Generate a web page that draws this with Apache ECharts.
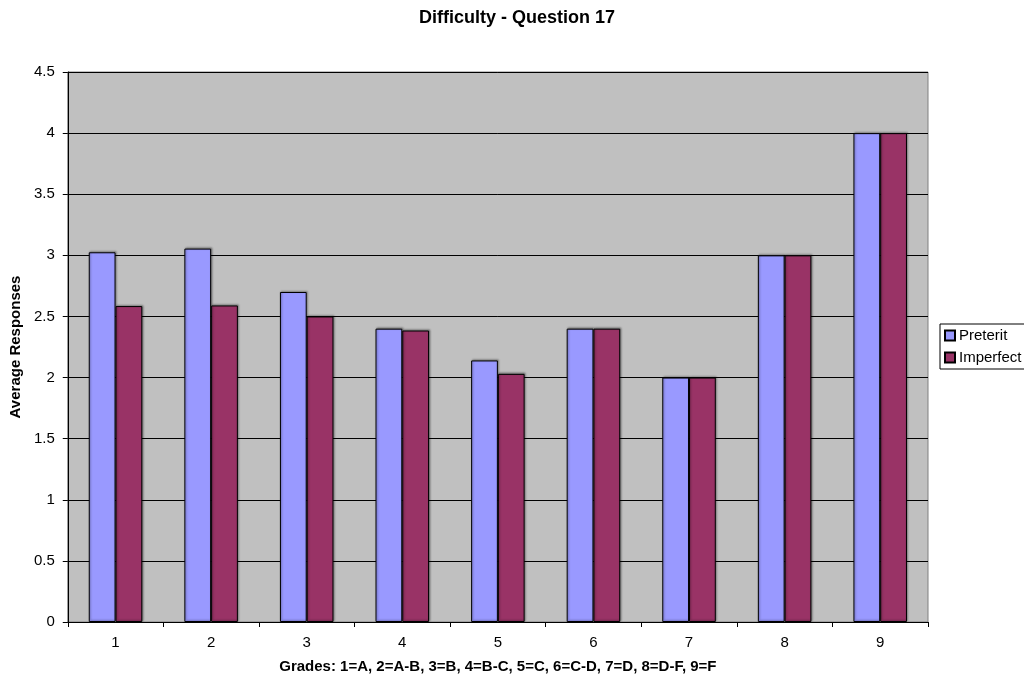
<!DOCTYPE html>
<html>
<head>
<meta charset="utf-8">
<script src="https://cdn.jsdelivr.net/npm/echarts@6/dist/echarts.min.js"></script>
<style>
  html, body { margin: 0; padding: 0; background: #ffffff; }
  #chart { width: 1024px; height: 680px; }
</style>
</head>
<body>
<div id="chart"></div>
<script>
// Grade categories on the x axis
const grades = ['1', '2', '3', '4', '5', '6', '7', '8', '9'];
// Average difficulty responses per grade
const preterit = [3.025, 3.055, 2.70, 2.40, 2.14, 2.40, 2.00, 3.00, 4.00];
const imperfect = [2.585, 2.59, 2.50, 2.385, 2.03, 2.40, 2.00, 3.00, 4.00];

const FONT = 'Liberation Sans, Arial, sans-serif';

const chart = echarts.init(document.getElementById('chart'));

const barStyle = (color) => ({
  color: color,
  borderColor: '#000000',
  borderWidth: 1,
  shadowColor: 'rgba(0,0,0,0.35)',
  shadowBlur: 2,
  shadowOffsetX: 1,
  shadowOffsetY: -1
});

chart.setOption({
  animation: false,
  title: {
    text: 'Difficulty - Question 17',
    left: 512,
    textAlign: 'center',
    top: 4,
    textStyle: { fontFamily: FONT, fontSize: 18, fontWeight: 'bold', color: '#000' }
  },
  legend: {
    data: ['Preterit', 'Imperfect'],
    orient: 'vertical',
    left: 940,
    top: 324,
    itemWidth: 10,
    itemHeight: 10,
    itemGap: 7,
    padding: [4, 20, 4, 4],
    borderColor: '#000000',
    borderWidth: 1,
    borderRadius: 0,
    icon: 'rect',
    textStyle: { fontFamily: FONT, fontSize: 15, color: '#000', padding: [0, 0, 0, -1] }
  },
  grid: {
    left: 66,
    right: 96,
    top: 72,
    bottom: 58,
    show: true,
    backgroundColor: '#c0c0c0',
    borderColor: '#808080',
    borderWidth: 1
  },
  xAxis: {
    type: 'category',
    data: grades,
    name: 'Grades: 1=A, 2=A-B, 3=B, 4=B-C, 5=C, 6=C-D, 7=D, 8=D-F, 9=F',
    nameLocation: 'middle',
    nameGap: 37,
    nameTextStyle: { fontFamily: FONT, fontSize: 15, fontWeight: 'bold', color: '#000' },
    axisLine: { lineStyle: { color: '#000', width: 1 } },
    axisTick: { show: true, length: 5, lineStyle: { color: '#000' }, alignWithLabel: false },
    axisLabel: { fontFamily: FONT, fontSize: 15, color: '#000', margin: 13 },
    splitLine: { show: false }
  },
  yAxis: {
    type: 'value',
    min: 0,
    max: 4.5,
    interval: 0.5,
    name: 'Average Responses',
    nameLocation: 'middle',
    nameGap: 42,
    nameTextStyle: { fontFamily: FONT, fontSize: 15, fontWeight: 'bold', color: '#000' },
    axisLine: { show: true, lineStyle: { color: '#000', width: 1 } },
    axisTick: { show: true, length: 5, lineStyle: { color: '#000' } },
    axisLabel: { fontFamily: FONT, fontSize: 15, color: '#000', margin: 13 },
    splitLine: { show: true, lineStyle: { color: '#000', width: 1 } }
  },
  series: [
    {
      name: 'Preterit',
      type: 'bar',
      data: preterit,
      barGap: '0%',
      barCategoryGap: '44%',
      itemStyle: barStyle('#9999ff')
    },
    {
      name: 'Imperfect',
      type: 'bar',
      data: imperfect,
      barGap: '0%',
      barCategoryGap: '44%',
      itemStyle: barStyle('#993366')
    }
  ]
});
</script>
</body>
</html>
